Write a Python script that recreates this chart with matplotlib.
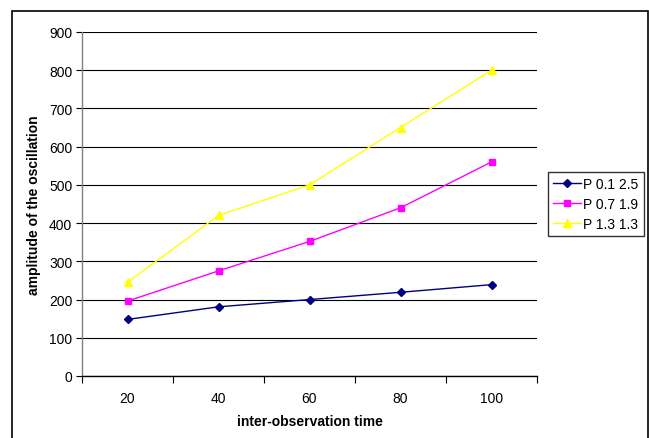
import matplotlib.pyplot as plt
from matplotlib.patches import Rectangle

plt.rcParams['font.family'] = ['Liberation Sans', 'DejaVu Sans']

categories = ['20', '40', '60', '80', '100']
series_names = ['P 0.1 2.5', 'P 0.7 1.9', 'P 1.3 1.3']
p01_25 = [148, 181, 200, 219, 239]
p07_19 = [196, 275, 352, 440, 560]
p13_13 = [245, 420, 500, 650, 800]

fig = plt.figure(figsize=(6.49, 4.39), dpi=100)
ax = fig.add_axes([82 / 649, 1 - 377 / 439, 455 / 649, 344 / 439])

# outer chart border (bottom runs off the image)
fig.patches.append(Rectangle((12 / 649, -0.05), 636 / 649, 1.05 - 12 / 439,
                             transform=fig.transFigure, fill=False,
                             edgecolor='black', linewidth=1.2))

x = list(range(len(categories)))
ax.plot(x, p01_25, color='#000080', marker='D', markersize=4.5, lw=1, label=series_names[0])
ax.plot(x, p07_19, color='#FF00FF', marker='s', markersize=5, lw=1, label=series_names[1])
ax.plot(x, p13_13, color='#FFFF00', marker='^', markersize=6, lw=1, label=series_names[2])

ax.set_xlim(-0.5, len(categories) - 0.5)
ax.set_ylim(0, 900)
ax.set_yticks(range(0, 901, 100))
ax.yaxis.grid(True, color='black', lw=0.8)
ax.set_axisbelow(True)

ax.set_xticks(x)
ax.set_xticklabels(categories)
ax.set_xticks([i - 0.5 for i in range(len(categories) + 1)], minor=True)
ax.tick_params(axis='x', which='major', length=0, pad=11, labelsize=10)
ax.tick_params(axis='x', which='minor', length=5, width=0.8, direction='out')
ax.tick_params(axis='y', length=4, width=0.8, direction='out', labelsize=10, pad=3)

for side in ['top', 'right']:
    ax.spines[side].set_visible(False)
ax.spines['left'].set_color('#808080')
ax.spines['left'].set_linewidth(1)
ax.spines['bottom'].set_linewidth(1)

ax.set_xlabel('inter-observation time', fontsize=10, fontweight='bold', labelpad=6)
ax.set_ylabel('amplitude of the oscillation', fontsize=10, fontweight='bold', labelpad=6)

leg = ax.legend(loc='center left', bbox_to_anchor=(548 / 649, 1 - 205 / 439),
                bbox_transform=fig.transFigure, frameon=True, fancybox=False,
                edgecolor='black', fontsize=10, handlelength=2.0, handletextpad=0.2,
                borderpad=0.35, labelspacing=0.45, borderaxespad=0)
leg.get_frame().set_linewidth(1)

fig.savefig('out.png', dpi=100)
